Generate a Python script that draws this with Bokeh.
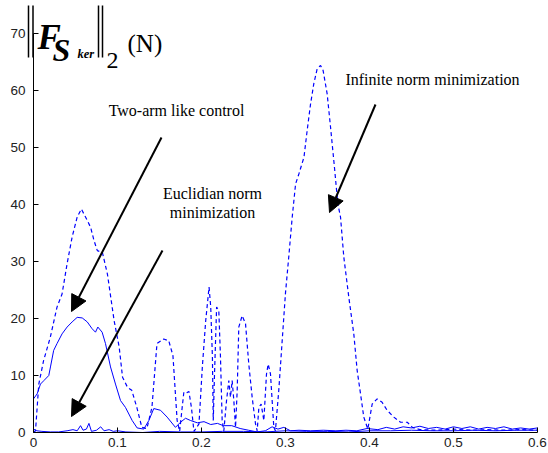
from bokeh.plotting import figure
from bokeh.models import Range1d, Label, Arrow, NormalHead, FixedTicker, LinearAxis
from bokeh.embed import file_html
from bokeh.resources import INLINE

# ---------------- data ----------------
inf_x = [0.000, 0.0024, 0.0063, 0.012, 0.020, 0.028, 0.034, 0.040, 0.046, 0.052, 0.057, 0.064, 0.068,
         0.072, 0.076, 0.082, 0.088, 0.092, 0.096, 0.102, 0.106, 0.112, 0.117, 0.123, 0.129, 0.135,
         0.141, 0.147, 0.155, 0.161, 0.166, 0.171, 0.174, 0.177, 0.179, 0.183, 0.185, 0.188, 0.191,
         0.197, 0.201, 0.205, 0.209, 0.211, 0.213, 0.214, 0.2155, 0.218, 0.2206, 0.2226, 0.2246,
         0.2266, 0.2298, 0.2325, 0.2345, 0.2365, 0.2385, 0.2405, 0.2425, 0.2444, 0.2484, 0.2524,
         0.2563, 0.2603, 0.2643, 0.2663, 0.2683, 0.271, 0.2742, 0.2774, 0.2794, 0.2821, 0.2861, 0.288,
         0.292, 0.296, 0.300, 0.304, 0.308, 0.312, 0.316, 0.322, 0.3258, 0.3298, 0.3337, 0.3377,
         0.3417, 0.3448, 0.3496, 0.3536, 0.3583, 0.3623, 0.3655, 0.3694, 0.3754, 0.3813, 0.3853,
         0.3893, 0.3932, 0.398, 0.4032, 0.4091, 0.415, 0.421, 0.429, 0.437, 0.445, 0.451, 0.46, 0.48,
         0.50, 0.52, 0.54, 0.56, 0.58, 0.60]
inf_y = [0.0, 0.3, 8.5, 12.6, 16.7, 22.0, 24.3, 29.6, 34.3, 37.8, 39.2, 37.2, 36.0,
         33.7, 31.9, 31.6, 27.8, 23.7, 19.6, 15.0, 9.7, 7.9, 7.4, 4.4, 0.9, 0.7,
         4.4, 15.6, 16.4, 16.1, 13.5, 2.1, 0.2, 4.4, 7.1, 7.0, 7.2, 4.4, 0.2,
         1.5, 11.5, 19.6, 25.5, 22.0, 13.2, 2.1, 10.3, 22.0, 21.4, 13.2, 2.1,
         0.3, 5.6, 9.1, 6.2, 9.1, 5.6, 0.9, 7.4, 18.5, 20.5, 19.1,
         12.0, 6.2, 1.5, 0.3, 4.4, 5.0, 2.1, 10.3, 12.0, 10.3, 0.9, 0.3,
         7.4, 16.0, 24.5, 31.0, 37.8, 43.6, 45.4, 48.3, 53.0, 57.6, 61.2, 63.8,
         64.4, 63.5, 59.4, 53.6, 46.5, 40.1, 37.8, 30.8, 23.7, 17.3, 10.9,
         6.8, 2.7, 0.6, 5.0, 5.9, 5.3, 3.9, 2.7, 1.8, 1.8, 0.9, 0.5, 0.4,
         0.6, 0.4, 0.5, 0.4, 0.5, 0.4]

arm_x = [0.000, 0.0044, 0.0083, 0.0123, 0.0182, 0.0202, 0.024, 0.028, 0.034, 0.040, 0.046, 0.052,
         0.058, 0.064, 0.0698, 0.0738, 0.0766, 0.0817, 0.0857, 0.0917, 0.0976, 0.1036, 0.1095,
         0.1175, 0.1234, 0.1313, 0.1373, 0.1432, 0.1512, 0.1591, 0.169, 0.175, 0.181, 0.187, 0.195,
         0.203, 0.211, 0.219, 0.226, 0.236, 0.246, 0.256, 0.266, 0.276, 0.284, 0.291, 0.298, 0.306,
         0.316, 0.33, 0.345, 0.36, 0.372, 0.385, 0.397, 0.41, 0.42, 0.43, 0.44, 0.45, 0.46, 0.47,
         0.48, 0.49, 0.50, 0.51, 0.52, 0.53, 0.54, 0.55, 0.56, 0.57, 0.58, 0.59, 0.60]
arm_y = [5.9, 6.8, 8.5, 9.1, 10.0, 11.5, 14.4, 15.6, 17.3, 18.5, 19.4, 20.2,
         20.1, 19.4, 18.2, 17.6, 18.5, 17.6, 15.6, 11.5, 8.5, 5.6, 4.4,
         2.1, 0.8, 0.6, 2.1, 4.2, 3.9, 2.7, 0.9, 1.8, 2.5, 2.1, 1.7,
         1.9, 1.4, 1.6, 1.2, 1.2, 0.7, 0.4, 0.1, 0.3, 1.0, 0.6, 0.9, 0.3,
         0.4, 0.3, 0.4, 0.3, 0.4, 0.3, 0.7, 0.5, 0.9, 0.6, 1.0, 0.8, 1.1, 0.7,
         0.9, 0.6, 1.0, 0.7, 1.0, 0.6, 0.9, 0.7, 1.0, 0.6, 0.8, 0.6, 0.8]

euc_x = [0.000, 0.004, 0.010, 0.020, 0.030, 0.040, 0.047, 0.052, 0.056, 0.059, 0.063, 0.066, 0.069,
         0.075, 0.080, 0.084, 0.090, 0.095, 0.100, 0.110, 0.130, 0.150, 0.175, 0.200, 0.225, 0.250,
         0.275, 0.300, 0.325, 0.350, 0.375, 0.400, 0.425, 0.450, 0.475, 0.500, 0.525, 0.550, 0.575,
         0.600]
euc_y = [0.6, 0.3, 0.2, 0.1, 0.1, 0.3, 0.5, 0.3, 1.2, 0.4, 0.6, 1.6, 0.2,
         0.4, 1.0, 0.3, 0.5, 0.2, 0.3, 0.1, 0.0, 0.2, 0.1, 0.1, 0.2, 0.2,
         0.1, 0.3, 0.2, 0.2, 0.1, 0.3, 0.3, 0.4, 0.3, 0.3, 0.4, 0.3, 0.4,
         0.4]

x_ticks = [0, 0.1, 0.2, 0.3, 0.4, 0.5, 0.6]
x_tick_labels = ["0", "0.1", "0.2", "0.3", "0.4", "0.5", "0.6"]
y_ticks = [0, 10, 20, 30, 40, 50, 60, 70]

# ---------------- geometry (page pixels -> data) ----------------
W, H = 548, 453
X0_PX, PX_PER_X = 33, 840.0     # x = 0 at px 33, 0.1 per 84 px
Y0_PX, PX_PER_Y = 432, 5.7      # y = 0 at px 432, 10 per 57 px
def dx(px):
    return (px - X0_PX) / PX_PER_X
def dy(py):
    return (Y0_PX - py) / PX_PER_Y

p = figure(width=W, height=H, output_backend="svg", toolbar_location=None,
           x_range=Range1d(dx(0), dx(W)), y_range=Range1d(dy(H), dy(0)),
           x_axis_location=None, y_axis_location=None,
           min_border=0, min_border_left=0, min_border_right=0,
           min_border_top=0, min_border_bottom=0)
p.outline_line_color = None
p.xgrid.visible = False
p.ygrid.visible = False
p.background_fill_color = "white"
p.border_fill_color = "white"

def style_axis(ax):
    ax.axis_line_color = "black"
    ax.axis_line_width = 1
    ax.major_tick_in = 5
    ax.major_tick_out = 0
    ax.minor_tick_in = 0
    ax.minor_tick_out = 0
    ax.major_tick_line_color = "black"
    ax.major_label_text_font = "Liberation Sans"
    ax.major_label_text_font_size = "13.5px"
    ax.major_label_text_color = "#222222"

xax = LinearAxis(fixed_location=0, bounds=(0, 0.6), ticker=FixedTicker(ticks=x_ticks))
xax.major_label_overrides = {t: s for t, s in zip(x_ticks, x_tick_labels)}
style_axis(xax)
xax.major_label_standoff = 5
yax = LinearAxis(fixed_location=0, bounds=(0, 70), ticker=FixedTicker(ticks=y_ticks))
style_axis(yax)
yax.major_label_standoff = 8
p.add_layout(xax, "below")
p.add_layout(yax, "left")

BLUE = "#0000ff"
p.line(inf_x, inf_y, line_color=BLUE, line_width=1.2, line_dash="4 3")
p.line(arm_x, arm_y, line_color=BLUE, line_width=1.0)
p.line(euc_x, euc_y, line_color=BLUE, line_width=1.0)

SERIF = "Liberation Serif"

def txt(s, px, py, size="16px", align="center", style="normal", baseline="middle"):
    p.add_layout(Label(x=dx(px), y=dy(py), text=s, text_font=SERIF, text_font_size=size,
                       text_align=align, text_baseline=baseline, text_font_style=style,
                       text_color="black"))

txt("Two-arm like control", 176, 110)
txt("Euclidian norm", 212, 193)
txt("minimization", 212, 212)
txt("Infinite norm minimization", 432, 79)

# arrows
for (x0, y0, x1, y1) in [(161, 137, 71, 311), (162, 250, 71, 416), (375, 104, 329, 212)]:
    p.add_layout(Arrow(x_start=dx(x0), y_start=dy(y0), x_end=dx(x1), y_end=dy(y1),
                       line_color="black", line_width=2,
                       end=NormalHead(size=16, fill_color="black", line_color="black")))

# y-axis title: ||F_{S_ker}||_2 (N)
for bx in (28, 32.5, 98, 102):
    p.add_layout(Arrow(x_start=dx(bx), y_start=dy(5), x_end=dx(bx), y_end=dy(57),
                       line_color="black", line_width=1.5, end=None))
txt("F", 37, 37, size="35px", align="left", style="bold italic", baseline="alphabetic")
txt("S", 52, 49, size="32px", align="left", style="bold italic", baseline="alphabetic")
txt("ker", 77, 53, size="12.5px", align="left", style="bold italic", baseline="alphabetic")
txt("2", 106, 60, size="24px", align="left", baseline="alphabetic")
txt("(N)", 127, 43, size="25px", align="left", baseline="alphabetic")

open("out.html", "w").write(file_html(p, INLINE))
